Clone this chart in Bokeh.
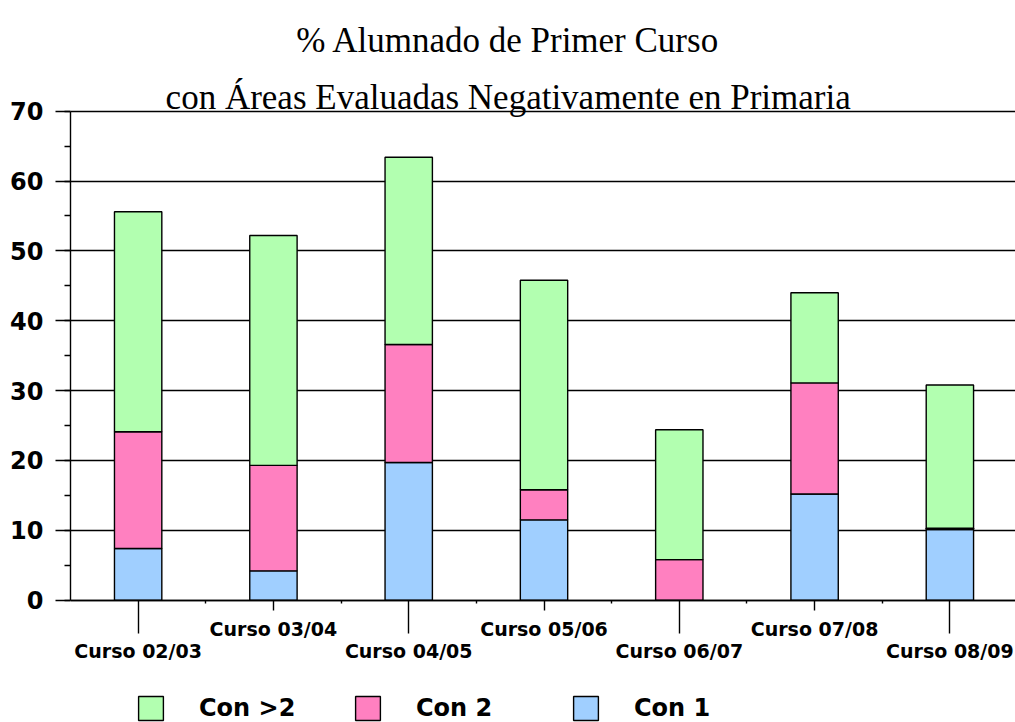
from bokeh.plotting import figure
from bokeh.models import (ColumnDataSource, Range1d, LinearAxis, FixedTicker,
                          SingleIntervalTicker, Grid, Legend, LegendItem, Label)
from bokeh.embed import file_html
from bokeh.resources import INLINE

# ---- data ----
categories = ["Curso 02/03", "Curso 03/04", "Curso 04/05", "Curso 05/06",
              "Curso 06/07", "Curso 07/08", "Curso 08/09"]
con_1 = [7.4, 4.2, 19.7, 11.5, 0.0, 15.2, 10.1]
con_2 = [16.7, 15.1, 16.9, 4.3, 5.8, 15.9, 0.2]
con_mas2 = [31.5, 32.9, 26.8, 30.0, 18.6, 12.9, 20.5]
series_names = ["Con 1", "Con 2", "Con >2"]
title_lines = ["% Alumnado de Primer Curso",
               "con Áreas Evaluadas Negativamente en Primaria"]

colors = ["#A0CFFF", "#FF80C0", "#B2FFB0"]

xpos = list(range(len(categories)))
source = ColumnDataSource(data={"x": xpos, "Con 1": con_1, "Con 2": con_2, "Con >2": con_mas2})

p = figure(width=1015, height=722, output_backend="svg", toolbar_location=None,
           x_range=Range1d(-0.5, 6.485), y_range=Range1d(-17.51, 85.84),
           x_axis_type=None, y_axis_type=None,
           min_border_left=70, min_border_right=0, min_border_top=0,
           min_border_bottom=0)
p.outline_line_color = None
p.background_fill_color = "white"
p.border_fill_color = "white"

# y axis
yticker = SingleIntervalTicker(interval=10, num_minor_ticks=2)
yaxis = LinearAxis(ticker=yticker, bounds=(0, 70),
                   major_tick_out=15, major_tick_in=0,
                   minor_tick_out=6, minor_tick_in=0,
                   major_label_standoff=12,
                   axis_line_color="black", axis_line_width=1.4,
                   major_tick_line_color="black", major_tick_line_width=1.4,
                   minor_tick_line_color="black", minor_tick_line_width=1.4,
                   major_label_text_font="DejaVu Sans",
                   major_label_text_font_style="bold",
                   major_label_text_font_size="24px",
                   major_label_text_color="black")
p.add_layout(yaxis, "left")
grid = Grid(dimension=1, ticker=yticker, bounds=(0, 70),
            grid_line_color="black", grid_line_width=1.4)
p.add_layout(grid)

# x axes (two label rows)
even = [i for i in xpos if i % 2 == 0]
odd = [i for i in xpos if i % 2 == 1]
minor = [i + 0.5 for i in xpos[:-1]]

xa = LinearAxis(ticker=FixedTicker(ticks=even, minor_ticks=minor), fixed_location=0,
                major_label_overrides={i: categories[i] for i in even},
                major_tick_out=33, major_tick_in=0, minor_tick_out=3, minor_tick_in=0,
                major_label_standoff=7,
                axis_line_color="black", axis_line_width=1.4,
                major_tick_line_color="black", major_tick_line_width=1.4,
                minor_tick_line_color="black", minor_tick_line_width=1.4,
                major_label_text_font="DejaVu Sans",
                major_label_text_font_style="bold",
                major_label_text_font_size="19px",
                major_label_text_color="black")
xb = LinearAxis(ticker=FixedTicker(ticks=odd, minor_ticks=[]), fixed_location=0,
                major_label_overrides={i: categories[i] for i in odd},
                major_tick_out=10, major_tick_in=0, minor_tick_out=0, minor_tick_in=0,
                major_label_standoff=8,
                axis_line_color=None,
                major_tick_line_color="black", major_tick_line_width=1.4,
                major_label_text_font="DejaVu Sans",
                major_label_text_font_style="bold",
                major_label_text_font_size="19px",
                major_label_text_color="black")
p.add_layout(xa, "below")
p.add_layout(xb, "below")

# bars
renderers = p.vbar_stack(series_names, x="x", width=0.35, source=source,
                         fill_color=colors, line_color="black", line_width=1.4)

# legends
for name, r, xoff in [("Con >2", renderers[2], 65),
                      ("Con 2", renderers[1], 282),
                      ("Con 1", renderers[0], 500)]:
    leg = Legend(items=[LegendItem(label=name, renderers=[r])],
                 location=(xoff, -1), orientation="horizontal",
                 glyph_width=31, glyph_height=30, label_standoff=33,
                 label_height=30, padding=0, margin=0, spacing=0,
                 border_line_color=None, background_fill_alpha=0,
                 label_text_font="DejaVu Sans", label_text_font_style="bold",
                 label_text_font_size="24px", label_text_color="black")
    p.add_layout(leg, "center")

# title
for txt, yy in zip(title_lines, [80.12, 71.92]):
    p.add_layout(Label(x=2.735, y=yy, text=txt, text_align="center",
                       text_baseline="alphabetic", text_font="Liberation Serif",
                       text_font_size="35px", text_color="black"))

open("out.html", "w").write(file_html(p, INLINE))
